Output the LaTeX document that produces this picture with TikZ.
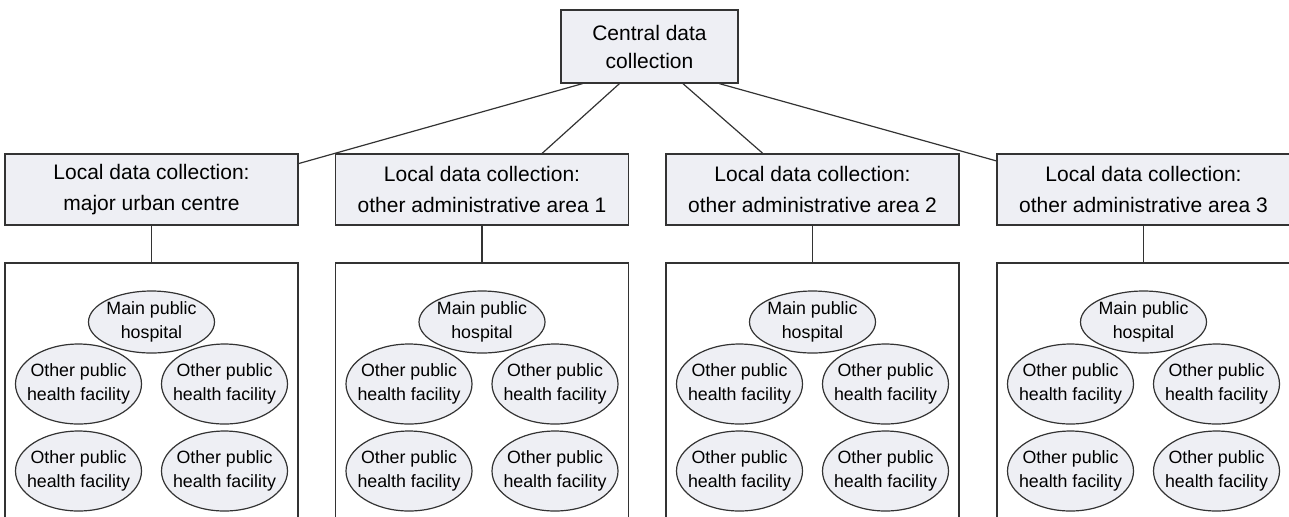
\documentclass[tikz,border=0pt]{standalone}
\usepackage{fontspec}
\setmainfont{Liberation Sans}
\usetikzlibrary{shapes.geometric}
\definecolor{boxFill}{HTML}{EEEFF4}
\definecolor{lineGray}{HTML}{333333}
\tikzset{
  cbox/.style={draw=lineGray, fill=boxFill, line width=0.6pt, align=center,
               inner sep=0pt, minimum width=88.5pt, minimum height=36.5pt,
               font=\fontsize{10.5}{14}\selectfont},
  lbox/.style={cbox, minimum width=146.5pt, minimum height=35.5pt,
               font=\fontsize{10.5}{15.5}\selectfont},
  area/.style={draw=lineGray, line width=0.6pt, inner sep=0pt,
               minimum width=146.5pt, minimum height=140pt},
  site/.style={draw=lineGray, fill=boxFill, ellipse, line width=0.6pt,
               align=center, inner xsep=-4pt, inner ysep=0pt,
               minimum width=63pt, minimum height=40pt,
               font=\fontsize{8.9}{12}\selectfont},
  link/.style={lineGray, line width=0.6pt},
}

\begin{document}
\begin{tikzpicture}[x=0.5pt, y=-0.5pt]
    \useasboundingbox (0,0) rectangle (1289,516);
    \clip (0,0) rectangle (1289,516);
    \node[cbox] (c) at (649.5,46.5) {Central data\\collection};
    \foreach \i/\cx/\txt in {1/151.5/major urban centre,
                             2/482/other administrative area 1,
                             3/812.5/other administrative area 2,
                             4/1143.5/other administrative area 3} {
      \node[lbox] (l\i) at (\cx,189.5) {Local data collection:\\\txt};
      \node[area] (a\i) at (\cx,403) {};
      \node[site, minimum height=31pt] (m\i) at (\cx,322) {Main public\\hospital};
      \node[site] (p\i) at (\cx-73,384) {Other public\\health facility};
      \node[site] (q\i) at (\cx+73,384) {Other public\\health facility};
      \node[site] (r\i) at (\cx-73,471) {Other public\\health facility};
      \node[site] (s\i) at (\cx+73,471) {Other public\\health facility};
      \draw[link] (l\i) -- (a\i);
    }
    \draw[link] (c.209.5) -- (l1.10.6);
    \draw[link] (c.231)   -- (l2.31);
    \draw[link] (c.-48.3) -- (l3.144.1);
    \draw[link] (c.-28.8) -- (l4.169);
  \end{tikzpicture}
\end{document}
